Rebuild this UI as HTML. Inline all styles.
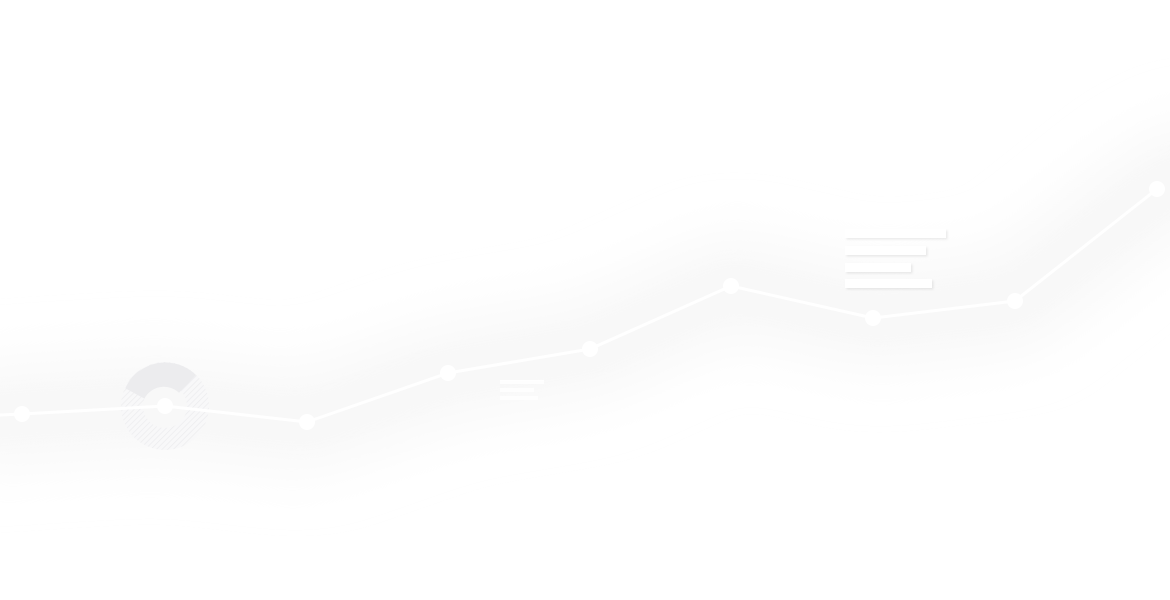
<!DOCTYPE html>
<html><head><meta charset="utf-8"><style>html,body{margin:0;padding:0;background:#fff;width:1170px;height:600px;overflow:hidden}</style></head>
<body>
<svg width="1170" height="600" viewBox="0 0 1170 600" xmlns="http://www.w3.org/2000/svg">
<defs>
<filter id="b1" x="-20%" y="-100%" width="140%" height="300%"><feGaussianBlur stdDeviation="30"/></filter>
<filter id="b2" x="-20%" y="-100%" width="140%" height="300%"><feGaussianBlur stdDeviation="14"/></filter>
<filter id="sh" x="-10%" y="-50%" width="130%" height="250%"><feDropShadow dx="1.5" dy="1.5" stdDeviation="1" flood-color="#000" flood-opacity="0.08"/></filter>
<pattern id="hatch" width="4" height="4" patternUnits="userSpaceOnUse" patternTransform="rotate(45)"><rect width="4" height="4" fill="#f8f8f9"/><line x1="0" y1="0" x2="0" y2="4" stroke="#ececee" stroke-width="1.4"/></pattern>
</defs>
<rect width="1170" height="600" fill="#fff"/>
<polyline points="-40,420 22,414 165,406 307,422 448,373 590,349 731,286 873,318 1015,301 1157,189 1220,160" fill="none" stroke="#f7f7f7" stroke-width="90" stroke-linejoin="round" filter="url(#b1)"/>
<polyline points="-40,420 22,414 165,406 307,422 448,373 590,349 731,286 873,318 1015,301 1157,189 1220,160" fill="none" stroke="#f8f8f8" stroke-width="40" stroke-linejoin="round" filter="url(#b2)"/>
<circle cx="165" cy="406" r="33" fill="none" stroke="url(#hatch)" stroke-width="22"/>
<path d="M 125.3 388.3 A 44 44 0 0 1 196 375 L 179 392.8 A 22 22 0 0 0 144.4 398.6 Z" fill="#ececee"/>
<polyline points="0,415 22,414 165,406 307,422 448,373 590,349 731,286 873,318 1015,301 1157,189" fill="none" stroke="#fff" stroke-width="3" stroke-linejoin="round"/>
<g fill="#fff">
<circle cx="22" cy="414" r="8"/><circle cx="165" cy="406" r="8"/><circle cx="307" cy="422" r="8"/><circle cx="448" cy="373" r="8"/><circle cx="590" cy="349" r="8"/><circle cx="731" cy="286" r="8"/><circle cx="873" cy="318" r="8"/><circle cx="1015" cy="301" r="8"/><circle cx="1157" cy="189" r="8"/>
</g>
<g fill="#fff" filter="url(#sh)">
<rect x="845" y="229" width="101" height="9"/>
<rect x="845" y="246" width="81" height="9"/>
<rect x="845" y="263" width="66" height="9"/>
<rect x="845" y="279" width="87" height="9"/>
</g>
<g fill="#fff" opacity="0.9">
<rect x="500" y="380" width="44" height="4"/>
<rect x="500" y="388" width="34" height="4"/>
<rect x="500" y="396" width="38" height="4"/>
</g>
</svg>
</body></html>
